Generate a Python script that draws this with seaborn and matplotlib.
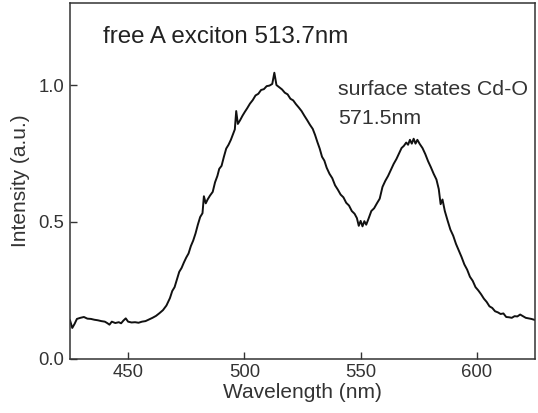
import matplotlib
matplotlib.use("Agg")
import matplotlib.pyplot as plt
import seaborn as sns
import pandas as pd

# Wavelength (nm) and intensity (a.u.)
wavelength = [
    425, 426, 427, 428, 429.5, 431, 432.5, 434, 435.5, 437,
    438.5, 440, 441, 442, 443, 444.5, 446, 447, 448, 449,
    450, 451.5, 453, 454.5, 456, 457.5, 459, 460.5, 462, 463.5,
    465, 466.5, 468, 469, 470, 471, 472, 473, 474, 475,
    476, 477, 478, 479, 480, 481, 482, 482.6, 483.4, 484.2,
    485.2, 486.4, 487.4, 488.4, 489.2, 490.2, 491.2, 492.2, 493.2, 494.2,
    495.2, 495.9, 496.5, 497.2, 498.2, 499.2, 500.2, 501.2, 502.4, 503.6,
    504.8, 506, 507.2, 508.4, 509.6, 510.8, 512, 512.9, 513.8, 515,
    516.2, 517.4, 518.6, 519.8, 521, 522.2, 523.4, 524.6, 525.8, 527,
    528.2, 529.4, 530.4, 531.4, 532.4, 533.4, 534.4, 535.4, 536.6, 537.8,
    539, 540.2, 541.4, 542.6, 543.8, 545, 546.2, 547.4, 548.4, 549.2,
    550, 550.8, 551.6, 552.4, 553.4, 554.6, 555.8, 557, 558.2, 559.4,
    560.6, 561.8, 563, 564.2, 565.4, 566.6, 567.6, 568.6, 569.6, 570.4,
    571.2, 572, 572.8, 573.6, 574.4, 575.4, 576.6, 577.8, 579, 580.2,
    581.4, 582.6, 583.6, 584.4, 585.2, 586.2, 587.4, 588.6, 589.8, 591,
    592.2, 593.4, 594.6, 595.8, 597, 598.2, 599.4, 600.6, 601.8, 603,
    604.2, 605.4, 606.6, 607.8, 609, 610.2, 611.4, 612.6, 613.8, 615,
    616.2, 617.4, 618.6, 619.8, 621, 622.2, 623.4, 625,
]
intensity = [
    0.142, 0.113, 0.128, 0.146, 0.150, 0.153, 0.147, 0.146, 0.143, 0.141,
    0.138, 0.136, 0.131, 0.125, 0.136, 0.131, 0.134, 0.130, 0.140, 0.148,
    0.136, 0.133, 0.134, 0.132, 0.136, 0.138, 0.144, 0.150, 0.157, 0.167,
    0.178, 0.195, 0.222, 0.248, 0.262, 0.290, 0.318, 0.332, 0.352, 0.370,
    0.385, 0.412, 0.432, 0.458, 0.490, 0.518, 0.532, 0.594, 0.568, 0.582,
    0.596, 0.610, 0.645, 0.668, 0.694, 0.705, 0.738, 0.768, 0.782, 0.800,
    0.822, 0.838, 0.905, 0.858, 0.872, 0.888, 0.902, 0.915, 0.932, 0.945,
    0.962, 0.968, 0.982, 0.985, 0.996, 0.998, 1.004, 1.045, 1.000, 0.992,
    0.984, 0.972, 0.966, 0.950, 0.944, 0.930, 0.918, 0.905, 0.888, 0.872,
    0.855, 0.840, 0.818, 0.792, 0.768, 0.738, 0.724, 0.698, 0.676, 0.660,
    0.634, 0.618, 0.600, 0.590, 0.570, 0.560, 0.540, 0.530, 0.514, 0.486,
    0.504, 0.484, 0.503, 0.490, 0.512, 0.540, 0.550, 0.568, 0.585, 0.628,
    0.650, 0.668, 0.690, 0.712, 0.730, 0.752, 0.770, 0.778, 0.790, 0.782,
    0.800, 0.786, 0.804, 0.786, 0.800, 0.785, 0.770, 0.748, 0.722, 0.700,
    0.676, 0.655, 0.620, 0.565, 0.582, 0.540, 0.505, 0.472, 0.450, 0.420,
    0.396, 0.372, 0.345, 0.326, 0.300, 0.285, 0.262, 0.250, 0.236, 0.220,
    0.208, 0.192, 0.186, 0.174, 0.170, 0.164, 0.166, 0.153, 0.152, 0.150,
    0.156, 0.155, 0.162, 0.156, 0.150, 0.148, 0.146, 0.142,
]

xticks = [450, 500, 550, 600]
yticks = [0.0, 0.5, 1.0]
ytick_labels = ["0.0", "0.5", "1.0"]

df = pd.DataFrame({"Wavelength (nm)": wavelength, "Intensity (a.u.)": intensity})

sns.set_theme(style="ticks")
plt.rcParams["font.family"] = ["Liberation Sans", "DejaVu Sans"]

fig = plt.figure(figsize=(5.38, 4.13), dpi=100)
ax = fig.add_axes([0.130, 0.131, 0.8645, 0.862])

sns.lineplot(data=df, x="Wavelength (nm)", y="Intensity (a.u.)", ax=ax,
             color="#111111", linewidth=1.4, estimator=None, sort=False)

ax.set_xlim(425, 625)
ax.set_ylim(0, 1.3)
ax.set_xticks(xticks)
ax.set_yticks(yticks)
ax.set_yticklabels(ytick_labels)
ax.tick_params(direction="in", length=5, width=1, colors="#333333",
               labelsize=13.3, labelcolor="#333333", pad=4)
for s in ax.spines.values():
    s.set_color("#333333")
    s.set_linewidth(1.1)
    s.set_visible(True)

ax.set_xlabel("Wavelength (nm)", fontsize=15, color="#333333", labelpad=1)
ax.set_ylabel("Intensity (a.u.)", fontsize=15, color="#333333", labelpad=6)

ax.text(439.2, 1.153, "free A exciton 513.7nm", fontsize=17.4, color="#222222",
        ha="left", va="baseline")
ax.text(540.3, 0.963, "surface states Cd-O", fontsize=15.4, color="#333333",
        ha="left", va="baseline")
ax.text(540.3, 0.858, "571.5nm", fontsize=15.4, color="#333333",
        ha="left", va="baseline")

fig.savefig("out.png", dpi=100)
